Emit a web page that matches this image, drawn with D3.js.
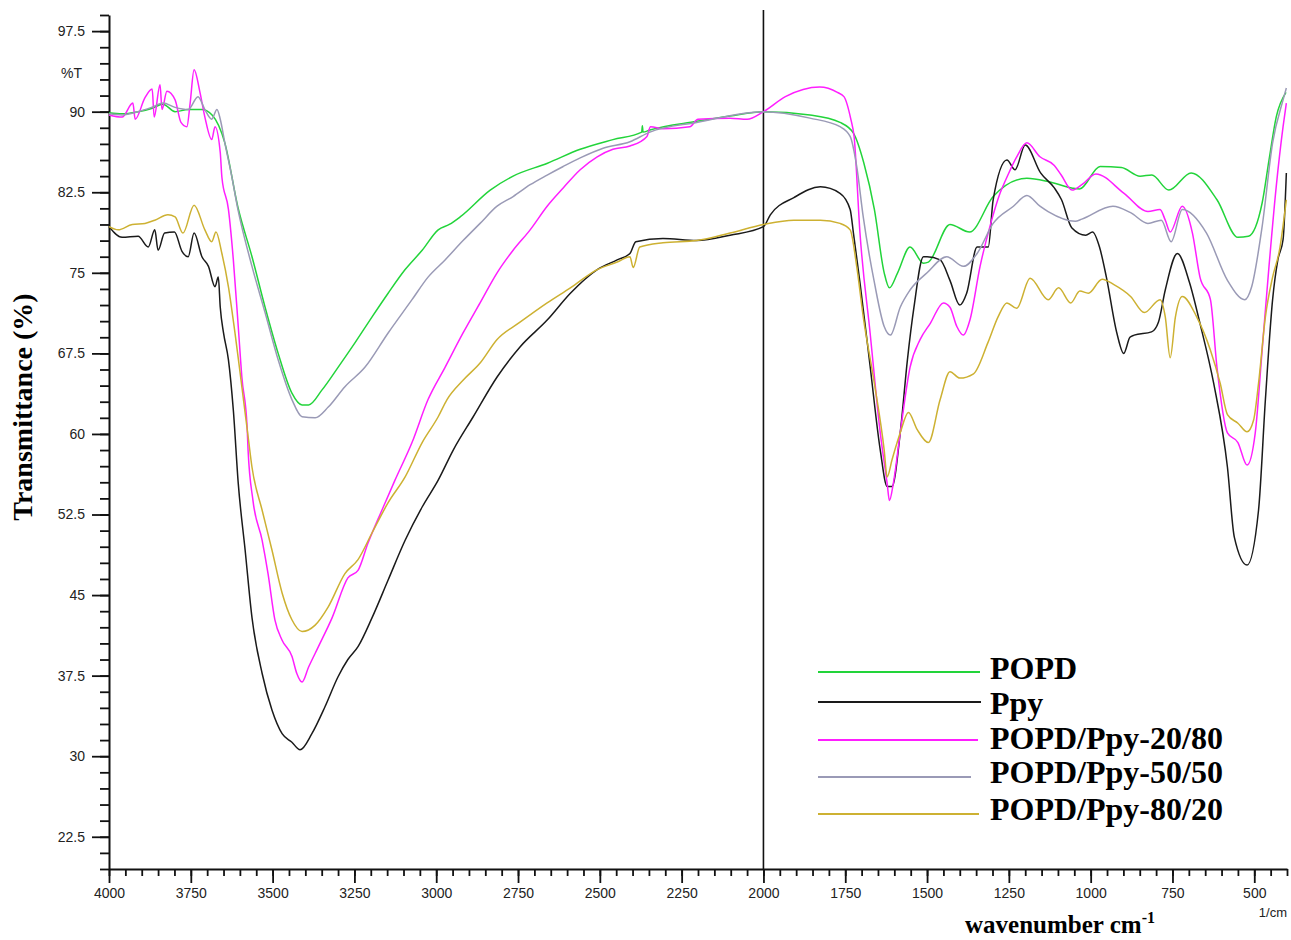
<!DOCTYPE html>
<html>
<head>
<meta charset="utf-8">
<script src="https://cdn.jsdelivr.net/npm/d3@7"></script>
<style>
  body { margin: 0; background: #fff; }
  svg { display: block; }
  .tick text { font-family: "Liberation Sans", Arial, sans-serif; font-size: 14px; fill: #222; }
  .ttl { font-family: "Liberation Serif", "Times New Roman", serif; font-weight: bold; fill: #000; }
</style>
</head>
<body>
<div id="chart"></div>
<script>
// FTIR spectra, [wavenumber, %T]
const popd = [[4000,89.9],[3960,89.8],[3911,90.0],[3870,90.3],[3835,90.7],[3798,90.0],[3758,90.2],[3716,90.2],[3685,89.7],[3646,87.1],[3606,81.1],[3563,76.5],[3523,71.8],[3483,67.5],[3441,63.8],[3410,62.7],[3390,62.7],[3349,64.1],[3300,66.2],[3248,68.5],[3196,70.9],[3147,73.1],[3095,75.3],[3043,77.1],[2994,79.0],[2960,79.5],[2927,80.2],[2835,82.7],[2765,84.0],[2660,85.2],[2560,86.5],[2460,87.4],[2372,88.1],[2370,88.7],[2368,88.1],[2347,88.3],[2204,89.1],[2102,89.6],[2000,90.0],[1858,89.7],[1766,89.0],[1725,88.0],[1693,85.2],[1661,80.9],[1631,75.0],[1615,73.6],[1590,75.0],[1552,77.4],[1511,75.9],[1496,76.0],[1430,79.5],[1370,78.8],[1298,82.1],[1195,83.8],[1130,83.5],[1058,82.9],[1034,82.8],[971,84.9],[906,84.8],[849,84.0],[813,84.1],[761,82.7],[693,84.3],[614,81.8],[550,78.3],[518,78.4],[476,81.5],[455,85.5],[433,89.5],[403,91.8]];

const ppy = [[4000,79.3],[3960,78.3],[3911,78.4],[3880,77.4],[3860,79.0],[3850,77.1],[3830,78.7],[3800,78.8],[3777,77.0],[3758,76.5],[3740,78.7],[3716,76.5],[3696,75.6],[3676,73.7],[3666,74.6],[3660,71.8],[3650,69.4],[3635,66.9],[3620,62.2],[3605,55.4],[3584,49.2],[3563,42.9],[3532,37.7],[3502,34.3],[3471,32.1],[3441,31.3],[3416,30.6],[3380,32.1],[3340,34.6],[3300,37.4],[3270,39.0],[3239,40.2],[3196,42.9],[3147,46.4],[3095,50.1],[3043,53.2],[2994,55.7],[2948,58.5],[2887,61.6],[2814,65.3],[2744,68.1],[2661,70.6],[2590,73.1],[2508,75.3],[2447,76.2],[2408,76.8],[2390,77.9],[2307,78.2],[2204,78.0],[2102,78.5],[2000,79.3],[1979,80.4],[1907,82.0],[1826,83.0],[1766,82.4],[1735,80.9],[1725,78.7],[1705,74.1],[1674,66.3],[1643,58.5],[1622,55.1],[1607,55.1],[1582,60.1],[1560,66.9],[1540,71.8],[1511,76.5],[1500,76.5],[1460,76.2],[1430,74.3],[1400,72.0],[1379,73.1],[1347,77.4],[1313,77.4],[1298,81.8],[1256,85.5],[1231,84.6],[1200,86.9],[1153,84.3],[1111,82.9],[1089,81.8],[1058,79.2],[1015,78.5],[994,78.8],[973,77.4],[952,74.6],[920,69.4],[899,67.5],[880,69.0],[867,69.2],[814,69.5],[793,70.4],[772,73.4],[735,76.8],[698,74.1],[666,70.3],[624,64.7],[582,56.9],[561,50.4],[522,47.8],[487,52.9],[466,63.2],[444,72.5],[428,76.2],[412,78.1],[402,84.3]];

const blend2080 = [[4000,89.7],[3960,89.5],[3927,90.8],[3920,89.3],[3890,91.3],[3868,92.1],[3862,89.5],[3844,92.5],[3838,90.2],[3823,91.9],[3798,91.1],[3780,89.0],[3762,88.6],[3752,90.8],[3740,93.9],[3722,91.8],[3707,89.5],[3686,87.4],[3676,88.6],[3660,86.2],[3655,83.9],[3635,80.9],[3620,76.2],[3605,70.0],[3594,65.3],[3578,60.7],[3575,58.5],[3560,53.8],[3532,50.1],[3514,47.0],[3493,42.7],[3471,40.8],[3441,39.3],[3426,37.7],[3410,36.9],[3390,38.3],[3360,40.2],[3318,42.9],[3270,46.6],[3239,47.3],[3209,49.8],[3166,52.9],[3126,55.7],[3074,59.2],[3025,63.2],[2973,66.2],[2918,69.4],[2866,72.2],[2814,75.0],[2765,77.1],[2713,79.0],[2661,81.2],[2612,82.9],[2560,84.6],[2508,85.8],[2460,86.5],[2408,86.8],[2356,87.7],[2345,88.6],[2307,88.4],[2225,88.6],[2200,89.3],[2102,89.4],[2050,89.3],[2000,90.0],[1933,91.4],[1828,92.3],[1774,91.8],[1754,91.4],[1733,89.3],[1723,87.7],[1705,78.7],[1674,69.4],[1643,60.1],[1622,55.4],[1615,53.8],[1603,55.4],[1582,60.1],[1552,66.2],[1521,68.8],[1490,70.3],[1450,72.2],[1430,71.8],[1409,70.0],[1389,69.2],[1369,70.6],[1338,75.6],[1308,79.3],[1277,82.4],[1256,83.9],[1226,85.8],[1195,87.1],[1155,85.8],[1111,85.0],[1090,84.1],[1057,82.7],[1027,83.2],[984,84.2],[898,82.4],[825,80.7],[788,80.9],[772,79.9],[757,78.8],[720,81.2],[689,78.7],[666,74.6],[634,72.5],[614,66.2],[582,60.1],[550,59.2],[522,57.1],[497,60.1],[476,67.8],[455,75.6],[433,83.0],[412,88.6],[402,90.8]];

const blend5050 = [[4000,89.8],[3960,89.7],[3911,90.0],[3870,90.4],[3835,90.8],[3798,90.4],[3758,90.2],[3728,91.4],[3707,90.2],[3686,89.3],[3670,90.2],[3660,89.3],[3646,87.1],[3625,84.0],[3606,80.9],[3563,75.6],[3523,71.3],[3483,66.9],[3441,63.2],[3410,61.6],[3370,61.5],[3330,62.5],[3279,64.4],[3218,66.2],[3147,69.4],[3074,72.5],[3025,74.6],[2973,76.2],[2918,78.0],[2866,79.6],[2814,81.2],[2765,82.1],[2713,83.2],[2661,84.1],[2612,84.9],[2560,85.7],[2490,86.6],[2408,87.2],[2347,88.1],[2204,89.0],[2000,90.0],[1858,89.4],[1766,88.6],[1735,87.7],[1715,84.9],[1695,80.2],[1661,74.1],[1631,70.0],[1612,69.2],[1582,71.8],[1552,73.4],[1500,75.0],[1440,76.5],[1389,75.6],[1347,76.8],[1298,79.6],[1236,81.2],[1195,82.2],[1155,81.2],[1130,80.7],[1047,79.8],[1027,80.0],[932,81.2],[878,80.6],[825,79.6],[784,79.9],[754,77.9],[720,80.9],[646,78.7],[582,74.3],[529,72.5],[508,73.7],[476,79.3],[444,87.1],[412,91.1],[402,92.2]];

const blend8020 = [[4000,79.3],[3972,79.0],[3929,79.5],[3890,79.6],[3860,79.9],[3820,80.4],[3798,80.2],[3774,78.7],[3740,81.3],[3707,79.0],[3686,77.9],[3673,78.8],[3655,76.8],[3635,73.7],[3615,69.4],[3594,64.4],[3575,59.8],[3563,56.9],[3532,52.9],[3502,49.2],[3471,45.2],[3441,42.7],[3410,41.6],[3370,42.2],[3330,43.9],[3279,47.0],[3239,48.3],[3196,50.8],[3147,53.6],[3095,56.0],[3043,59.2],[2994,61.6],[2967,63.2],[2918,65.0],[2866,66.6],[2814,68.8],[2744,70.4],[2661,72.2],[2590,73.6],[2508,75.3],[2447,76.0],[2408,76.5],[2398,75.5],[2378,77.4],[2307,77.8],[2204,78.0],[2102,78.7],[2000,79.5],[1907,79.9],[1826,79.9],[1766,79.6],[1735,79.0],[1715,75.6],[1695,70.9],[1661,64.7],[1631,58.5],[1622,56.0],[1607,57.6],[1582,60.1],[1557,62.0],[1530,60.4],[1496,59.2],[1460,63.2],[1430,65.8],[1400,65.2],[1358,65.6],[1314,68.5],[1283,70.9],[1256,72.2],[1226,71.7],[1185,74.5],[1130,72.5],[1098,73.6],[1061,72.2],[1033,73.3],[1007,73.1],[965,74.4],[929,73.9],[878,72.8],[836,71.3],[788,72.5],[772,70.9],[757,67.1],[741,70.9],[720,72.8],[676,70.9],[634,67.8],[604,64.7],[582,61.8],[550,61.0],[522,60.2],[502,61.3],[487,64.7],[466,70.9],[444,74.6],[423,77.1],[402,81.8]];

const seriesNames = ['POPD', 'Ppy', 'POPD/Ppy-20/80', 'POPD/Ppy-50/50', 'POPD/Ppy-80/20'];
const seriesData = [popd, ppy, blend2080, blend5050, blend8020];
const seriesColors = ['#22d43a', '#1a1a1a', '#ff1eff', '#9a9ab6', '#cdb132'];

const xTicks = [4000, 3750, 3500, 3250, 3000, 2750, 2500, 2250, 2000, 1750, 1500, 1250, 1000, 750, 500];
const yTicks = [22.5, 30, 37.5, 45, 52.5, 60, 67.5, 75, 82.5, 90, 97.5];

const W = 1291, H = 940;
const svg = d3.select('#chart').append('svg')
  .attr('width', W)
  .attr('height', H);

const x = d3.scaleLinear().domain([4000, 400]).range([109, 1287]);
const y = d3.scaleLinear().domain([19.5, 99]).range([869, 15]);

// minor ticks first
svg.append('g')
  .attr('transform', 'translate(109,0)')
  .call(d3.axisLeft(y).tickValues(d3.range(19.5, 99.1, 1.5)).tickSize(9).tickFormat(''))
  .call(g => g.select('.domain').remove());
svg.append('g')
  .attr('transform', 'translate(0,869)')
  .call(d3.axisBottom(x).tickValues(d3.range(400, 4001, 50)).tickSize(7).tickFormat(''))
  .call(g => g.select('.domain').remove());

svg.append('g')
  .attr('transform', 'translate(109,0)')
  .call(d3.axisLeft(y).tickValues(yTicks).tickSize(17).tickPadding(7).tickSizeOuter(0)
    .tickFormat(d => String(d)));
svg.append('g')
  .attr('transform', 'translate(0,869)')
  .call(d3.axisBottom(x).tickValues(xTicks).tickSize(14).tickPadding(5).tickSizeOuter(0)
    .tickFormat(d => String(d)));

svg.selectAll('.tick line').attr('stroke', '#111').attr('stroke-width', 1.8);
svg.selectAll('.domain').attr('stroke', '#111').attr('stroke-width', 2);

// divider at 2000
svg.append('line')
  .attr('x1', x(2000)).attr('x2', x(2000))
  .attr('y1', 10).attr('y2', 869)
  .attr('stroke', '#111').attr('stroke-width', 1.6);

const line = d3.line()
  .x(d => x(d[0]))
  .y(d => y(d[1]))
  .curve(d3.curveMonotoneX);

svg.append('g').selectAll('path')
  .data(seriesData)
  .enter()
  .append('path')
  .attr('d', line)
  .attr('fill', 'none')
  .attr('stroke', (d, i) => seriesColors[i])
  .attr('stroke-width', 1.5)
  .attr('stroke-linejoin', 'round');

// labels
svg.append('text')
  .attr('x', 82).attr('y', 78)
  .attr('text-anchor', 'end')
  .style('font-family', '"Liberation Sans", Arial, sans-serif')
  .style('font-size', '14px')
  .attr('fill', '#222')
  .text('%T');

svg.append('text')
  .attr('x', 1287).attr('y', 917)
  .attr('text-anchor', 'end')
  .style('font-family', '"Liberation Sans", Arial, sans-serif')
  .style('font-size', '13px')
  .attr('fill', '#222')
  .text('1/cm');

const xt = svg.append('text')
  .attr('class', 'ttl')
  .attr('x', 1060).attr('y', 933)
  .attr('text-anchor', 'middle')
  .style('font-size', '25px');
xt.append('tspan').text('wavenumber cm');
xt.append('tspan').attr('dy', -10).style('font-size', '16px').text('-1');

svg.append('text')
  .attr('class', 'ttl')
  .attr('transform', 'translate(32,407) rotate(-90)')
  .attr('text-anchor', 'middle')
  .style('font-size', '28px')
  .text('Transmittance (%)');

// legend
const legendRows = [
  { ly: 672, ty: 679, x2: 980 },
  { ly: 702, ty: 714, x2: 981 },
  { ly: 740, ty: 749, x2: 978 },
  { ly: 777, ty: 783, x2: 971 },
  { ly: 814, ty: 820, x2: 979 }
];
const leg = svg.append('g').selectAll('g')
  .data(seriesNames)
  .enter()
  .append('g');
leg.append('line')
  .attr('x1', 818)
  .attr('x2', (d, i) => legendRows[i].x2)
  .attr('y1', (d, i) => legendRows[i].ly)
  .attr('y2', (d, i) => legendRows[i].ly)
  .attr('stroke', (d, i) => seriesColors[i])
  .attr('stroke-width', 1.8);
leg.append('text')
  .attr('class', 'ttl')
  .attr('x', 990)
  .attr('y', (d, i) => legendRows[i].ty)
  .style('font-size', '32px')
  .text(d => d);
</script>
</body>
</html>
